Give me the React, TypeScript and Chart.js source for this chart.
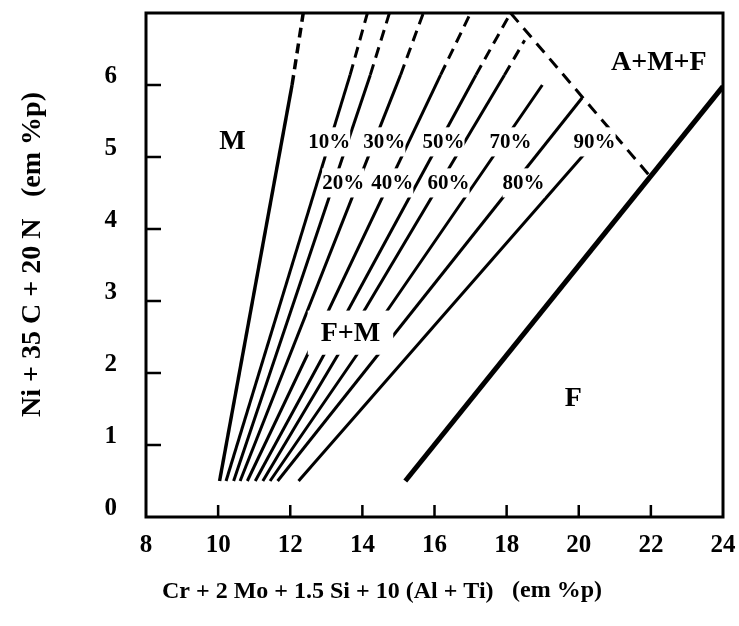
import React, { useEffect, useRef } from 'react';
import { Chart, registerables } from 'chart.js';

Chart.register(...registerables);

// Axis ticks
const xTickValues = [8, 10, 12, 14, 16, 18, 20, 22, 24];
const yTickValues = [0, 1, 2, 3, 4, 5, 6];

// Martensite limit (solid, then dashed above the middle point)
const mLimitX = [10.04, 12.05, 12.36];
const mLimitY = [0.5, 6.0, 7.0];

// Iso-martensite lines, 10% .. 90%
const isoNames = ['10%', '20%', '30%', '40%', '50%', '60%', '70%', '80%', '90%'];
const isoStartX = [10.22, 10.43, 10.61, 10.81, 11.03, 11.24, 11.44, 11.65, 12.23];
const isoStartY = [0.5, 0.5, 0.5, 0.5, 0.5, 0.5, 0.5, 0.5, 0.5];
const isoDashX: (number | null)[] = [13.66, 14.22, 15.06, 16.17, 17.15, 17.94, null, null, null];
const isoDashY: (number | null)[] = [6.14, 6.14, 6.14, 6.14, 6.14, 6.14, null, null, null];
const isoEndX = [14.14, 14.75, 15.69, 17.0, 18.11, 18.5, 18.99, 20.09, 20.78];
const isoEndY = [7.0, 7.0, 7.0, 7.0, 7.0, 6.62, 6.0, 5.82, 5.4];
const isoLabelX = [13.08, 13.47, 14.61, 14.83, 16.25, 16.39, 18.11, 18.47, 20.44];
const isoLabelY = [5.21, 4.64, 5.21, 4.64, 5.21, 4.64, 5.21, 4.64, 5.21];

// A+M+F limit (dashed) and ferrite limit
const amfLimitX = [18.11, 21.98];
const amfLimitY = [7.0, 4.73];
const fLimitX = [15.19, 24.0];
const fLimitY = [0.5, 5.98];

// Phase field names
const regionNames = ['M', 'A+M+F', 'F+M', 'F'];
const regionX = [10.4, 22.22, 13.67, 19.85];
const regionY = [5.22, 6.32, 2.56, 1.65];

const SERIF = '"Liberation Serif", "Times New Roman", serif';
const INK = '#000000';

const toPoints = (xs: (number | null)[], ys: (number | null)[]) =>
  xs
    .map((x, i) => (x === null || ys[i] === null ? null : { x: x as number, y: ys[i] as number }))
    .filter((p) => p !== null) as { x: number; y: number }[];

const labelBox = (
  ctx: CanvasRenderingContext2D,
  text: string,
  px: number,
  py: number,
  size: number,
  padX: number,
  padY: number
) => {
  ctx.font = `bold ${size}px ${SERIF}`;
  const w = ctx.measureText(text).width;
  const h = size * 0.72;
  ctx.fillStyle = '#ffffff';
  ctx.fillRect(px - w / 2 - padX, py - h / 2 - padY, w + padX * 2, h + padY * 2);
  ctx.fillStyle = INK;
  ctx.textAlign = 'center';
  ctx.textBaseline = 'middle';
  ctx.fillText(text, px, py + 1);
};

const diagramPlugin = {
  id: 'diagramDecor',
  afterDatasetsDraw(chart: any) {
    const { ctx, chartArea: a, scales } = chart;
    const xs = scales.x;
    const ys = scales.y;
    ctx.save();

    // percentage labels sit on their lines, breaking them
    isoNames.forEach((t, i) => {
      labelBox(ctx, t, xs.getPixelForValue(isoLabelX[i]), ys.getPixelForValue(isoLabelY[i]), 21, 0, 7);
    });

    // phase fields
    regionNames.forEach((t, i) => {
      labelBox(ctx, t, xs.getPixelForValue(regionX[i]), ys.getPixelForValue(regionY[i]), 28, 13, 12);
    });

    // frame
    ctx.strokeStyle = INK;
    ctx.lineWidth = 3;
    ctx.strokeRect(a.left, a.top, a.right - a.left, a.bottom - a.top);

    // inward tick marks
    ctx.lineWidth = 2.5;
    ctx.beginPath();
    xTickValues.slice(1, -1).forEach((v) => {
      const p = xs.getPixelForValue(v);
      ctx.moveTo(p, a.bottom);
      ctx.lineTo(p, a.bottom - 12);
    });
    yTickValues.slice(1).forEach((v) => {
      const p = ys.getPixelForValue(v);
      ctx.moveTo(a.left, p);
      ctx.lineTo(a.left + 15, p);
    });
    ctx.stroke();
    ctx.restore();
  },
  afterDraw(chart: any) {
    const { ctx } = chart;
    ctx.save();
    ctx.fillStyle = INK;
    ctx.textBaseline = 'alphabetic';
    ctx.textAlign = 'left';

    // x axis title
    ctx.font = `bold 24px ${SERIF}`;
    ctx.fillText('Cr + 2 Mo + 1.5 Si + 10 (Al + Ti)', 162, 598);
    ctx.font = `bold 24px ${SERIF}`;
    ctx.fillText('(em %p)', 512, 597);

    // y axis title
    ctx.translate(40, 417);
    ctx.rotate(-Math.PI / 2);
    ctx.font = `bold 28px ${SERIF}`;
    ctx.fillText('Ni + 35 C + 20 N', 0, 0);
    ctx.fillText('(em %p)', 220, 0);
    ctx.restore();
  },
};

export default function App() {
  const ref = useRef<HTMLCanvasElement | null>(null);

  useEffect(() => {
    if (!ref.current) return;

    const datasets: any[] = [];

    datasets.push({
      data: toPoints(mLimitX, mLimitY),
      borderColor: INK,
      borderWidth: 3.5,
      segment: { borderDash: (c: any) => (c.p0DataIndex === 1 ? [10, 6] : undefined) },
    });

    isoNames.forEach((_, i) => {
      const pts = toPoints(
        [isoStartX[i], isoDashX[i], isoEndX[i]],
        [isoStartY[i], isoDashY[i], isoEndY[i]]
      );
      const dashed = pts.length === 3;
      datasets.push({
        data: pts,
        borderColor: INK,
        borderWidth: 3,
        segment: {
          borderDash: (c: any) => (dashed && c.p0DataIndex === 1 ? [11, 7] : undefined),
        },
      });
    });

    datasets.push({
      data: toPoints(amfLimitX, amfLimitY),
      borderColor: INK,
      borderWidth: 3,
      borderDash: [12, 8],
    });

    datasets.push({
      data: toPoints(fLimitX, fLimitY),
      borderColor: INK,
      borderWidth: 5,
    });

    datasets.forEach((d) => {
      d.showLine = true;
      d.pointRadius = 0;
      d.pointHoverRadius = 0;
      d.fill = false;
      d.tension = 0;
      d.borderCapStyle = 'butt';
    });

    const tickFont = { family: SERIF, size: 25, weight: 'bold' as const };

    const chart = new Chart(ref.current, {
      type: 'scatter',
      data: { datasets },
      options: {
        animation: false,
        responsive: false,
        maintainAspectRatio: false,
        layout: { padding: { top: 13, right: 16, left: 0, bottom: 0 } },
        plugins: { legend: { display: false }, tooltip: { enabled: false } },
        scales: {
          x: {
            type: 'linear',
            min: 8,
            max: 24,
            afterBuildTicks: (s: any) => {
              s.ticks = xTickValues.map((v) => ({ value: v }));
            },
            afterFit: (s: any) => {
              s.height = 109;
              s.paddingLeft = 0;
              s.paddingRight = 0;
            },
            grid: { display: false, drawTicks: false },
            border: { display: false },
            ticks: {
              font: tickFont,
              color: INK,
              padding: 14,
              maxRotation: 0,
              autoSkip: false,
              callback: (v: any) => String(v),
            },
          },
          y: {
            type: 'linear',
            min: 0,
            max: 7,
            afterBuildTicks: (s: any) => {
              s.ticks = yTickValues.map((v) => ({ value: v }));
            },
            afterFit: (s: any) => {
              s.width = 146;
              s.paddingTop = 0;
              s.paddingBottom = 0;
            },
            grid: { display: false, drawTicks: false },
            border: { display: false },
            ticks: {
              font: tickFont,
              color: INK,
              padding: 29,
              labelOffset: -8,
              autoSkip: false,
              callback: (v: any) => String(v),
            },
          },
        },
      },
      plugins: [diagramPlugin],
    });

    return () => chart.destroy();
  }, []);

  return (
    <div style={{ position: 'fixed', left: 0, top: 0, width: 739, height: 626, background: '#ffffff' }}>
      <canvas ref={ref} width={739} height={626} style={{ display: 'block' }} />
    </div>
  );
}
